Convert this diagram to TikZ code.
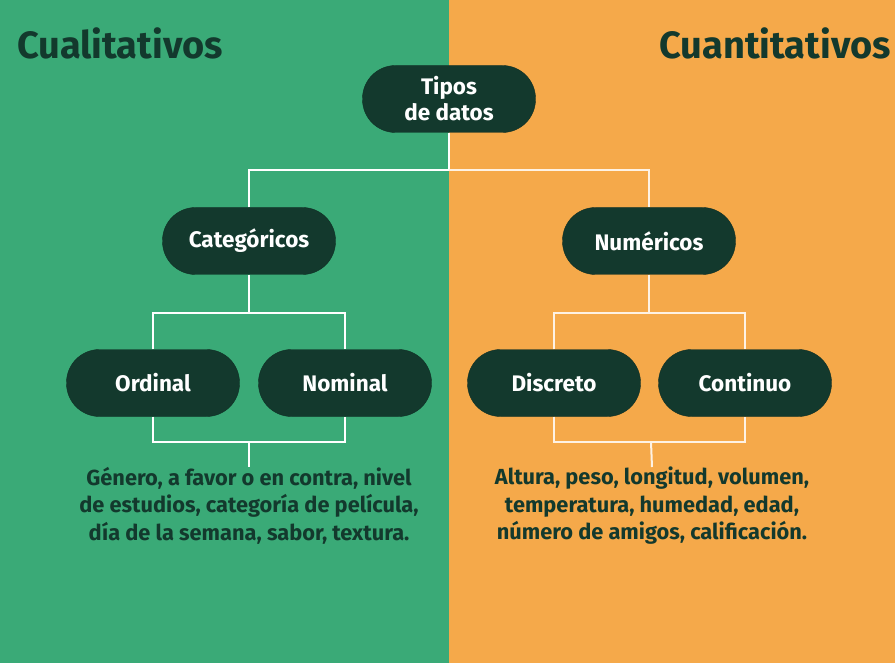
\documentclass[tikz,border=0pt]{standalone}
\usepackage{fontspec}
\setmainfont{Fira Sans}
\definecolor{bggreen}{HTML}{3AAA77}
\definecolor{bgorange}{HTML}{F5A94A}
\definecolor{darkgreen}{HTML}{13392D}
\tikzset{
  pill/.style={rectangle, rounded corners=33pt, fill=darkgreen, draw=darkgreen!80!black,
    minimum width=173pt, minimum height=67pt, text=white, align=center,
    font=\fontsize{22.5}{26}\selectfont\bfseries, inner sep=0pt},
  conn/.style={draw=white, line width=2pt},
  connO/.style={draw=white!85!bgorange, line width=2pt},
  body/.style={text=darkgreen, align=center, anchor=north, inner sep=0pt,
    font=\fontsize{21.8}{27.5}\selectfont\bfseries},
  title/.style={text=darkgreen, font=\fontsize{38}{40}\selectfont\bfseries, inner sep=0pt}
}
\begin{document}
\begin{tikzpicture}[x=1pt,y=-1pt]
\useasboundingbox (0,0) rectangle (895,663);
\fill[bggreen] (0,0) rectangle (449,663);
\fill[bgorange] (449,0) rectangle (895,663);
\node[title, anchor=west] (tl) at (17,43) {Cualitativos};
\node[title, anchor=east] (tr) at (891,43) {Cuantitativos};

\node[pill] (tipos) at (449,99) {Tipos\\de datos};
\node[pill] (cat) at (249,241) {Categóricos};
\node[pill] (num) at (649,241) {Numéricos};
\node[pill] (ord) at (153,383) {Ordinal};
\node[pill] (nom) at (345,383) {Nominal};
\node[pill] (dis) at (554,383) {Discreto};
\node[pill] (con) at (745,383) {Continuo};

\node[body] (txtL) at (249,467) {Género, a favor o en contra, nivel\\de estudios, categoría de película,\\día de la semana, sabor, textura.};
\node[body] (txtR) at (652,467) {Altura, peso, longitud, volumen,\\temperatura, humedad, edad,\\número de amigos, calificación.};

\coordinate (j1) at (449,170);
\coordinate (j2) at (249,313);
\coordinate (j3) at (649,313);
\coordinate (j4) at (249,442);
\coordinate (j5) at (651,442);

\draw[conn] (tipos.south) -- (j1);
\draw[conn] (cat.north) |- (j1);
\draw[connO] (j1) -| (num.north);
\draw[conn] (cat.south) -- (j2);
\draw[conn] (ord.north) |- (j2) -| (nom.north);
\draw[connO] (num.south) -- (j3);
\draw[connO] (dis.north) |- (j3) -| (con.north);
\draw[conn] (ord.south) |- (j4) -| (nom.south);
\draw[conn] (j4) -- (txtL.north);
\draw[connO] (dis.south) |- (j5) -| (con.south);
\draw[connO] (j5) -- (txtR.north);
\end{tikzpicture}
\end{document}
